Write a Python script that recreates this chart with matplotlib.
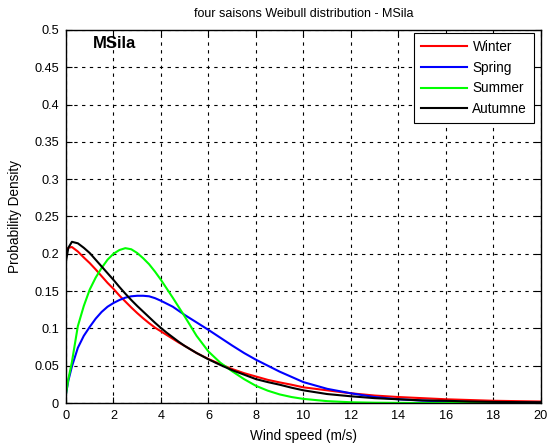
import matplotlib.pyplot as plt
import numpy as np

plt.rcParams['font.family'] = ['Liberation Sans', 'DejaVu Sans']

# wind speed samples (m/s) and pdf values
ws = [0, 0.1, 0.25, 0.5, 0.75, 1, 1.25, 1.5, 1.75, 2, 2.25, 2.5, 2.75, 3, 3.25,
      3.5, 3.75, 4, 4.25, 4.5, 4.75, 5, 5.5, 6, 6.5, 7, 7.5, 8, 8.5, 9, 9.5, 10,
      11, 12, 13, 14, 15, 16, 17, 18, 19, 20]

winter = [0.203, 0.208, 0.209, 0.203, 0.195, 0.1875, 0.179, 0.170, 0.161, 0.153,
          0.144, 0.136, 0.128, 0.1205, 0.1135, 0.107, 0.101, 0.096, 0.091, 0.086,
          0.081, 0.0765, 0.067, 0.059, 0.052, 0.0455, 0.040, 0.0355, 0.031, 0.0276,
          0.0245, 0.021, 0.017, 0.013, 0.010, 0.008, 0.0065, 0.005, 0.004, 0.003,
          0.0025, 0.002]
spring = [0.012, 0.030, 0.049, 0.074, 0.090, 0.102, 0.113, 0.122, 0.129, 0.134,
          0.138, 0.1412, 0.143, 0.1437, 0.1437, 0.143, 0.1405, 0.137, 0.133, 0.129,
          0.1235, 0.118, 0.108, 0.098, 0.0875, 0.077, 0.067, 0.058, 0.050, 0.042,
          0.035, 0.028, 0.019, 0.013, 0.008, 0.005, 0.0032, 0.002, 0.0012, 0.0006,
          0.0004, 0.0002]
summer = [0.012, 0.032, 0.055, 0.103, 0.130, 0.152, 0.168, 0.181, 0.192, 0.200,
          0.205, 0.2075, 0.206, 0.201, 0.194, 0.186, 0.176, 0.165, 0.153, 0.141,
          0.1285, 0.116, 0.090, 0.069, 0.054, 0.0425, 0.032, 0.023, 0.0165, 0.0115,
          0.008, 0.0055, 0.0025, 0.001, 0.0004, 0.0002, 0, 0, 0, 0, 0, 0]
autumne = [0.190, 0.208, 0.216, 0.214, 0.208, 0.201, 0.192, 0.183, 0.174, 0.165,
           0.1555, 0.1465, 0.138, 0.130, 0.1225, 0.115, 0.1075, 0.1005, 0.094, 0.088,
           0.082, 0.0765, 0.067, 0.0585, 0.051, 0.044, 0.038, 0.032, 0.028, 0.0245,
           0.0205, 0.017, 0.012, 0.009, 0.0065, 0.005, 0.0035, 0.003, 0.002, 0.0015,
           0.0012, 0.001]

seasons = ['Winter', 'Spring', 'Summer', 'Autumne']
colors = ['#ff0000', '#0000ff', '#00ff00', '#000000']

fig = plt.figure(figsize=(5.48, 4.46), dpi=100)
ax = fig.add_axes([0.1204, 0.0964, 0.8666, 0.8366])

for vals, name, c in zip([winter, spring, summer, autumne], seasons, colors):
    ax.plot(ws, vals, color=c, linewidth=1.5, label=name)

ax.set_xlim(0, 20)
ax.set_ylim(0, 0.5)
ax.set_xticks(np.arange(0, 21, 2))
ax.set_yticks(np.arange(0, 0.51, 0.05))
ax.set_yticklabels(['0', '0.05', '0.1', '0.15', '0.2', '0.25', '0.3', '0.35', '0.4', '0.45', '0.5'])
ax.tick_params(direction='in', top=True, right=True, labelsize=9.2, length=4)
ax.tick_params(axis='x', pad=5)
ax.tick_params(axis='y', pad=5)
ax.grid(True, color='black', linestyle=(0, (3, 4)), linewidth=0.8)
for s in ax.spines.values():
    s.set_linewidth(1)

ax.set_xlabel('Wind speed (m/s)', fontsize=9.8, labelpad=5)
ax.set_ylabel('Probability Density', fontsize=9.8, labelpad=9)
ax.set_title('four saisons Weibull distribution - MSila', fontsize=9, pad=9)
ax.text(1.15, 0.482, 'MSila', fontsize=12, fontweight='bold', va='center')

leg = ax.legend(loc='upper right', fontsize=9.8, fancybox=False, framealpha=1,
                edgecolor='black', bbox_to_anchor=(534 / 548, 1 - 33 / 446),
                bbox_transform=fig.transFigure, borderaxespad=0, handlelength=3.4,
                labelspacing=0.5, borderpad=0.5, handletextpad=0.4)
leg.get_frame().set_linewidth(0.8)

fig.savefig('out.png', dpi=100)
